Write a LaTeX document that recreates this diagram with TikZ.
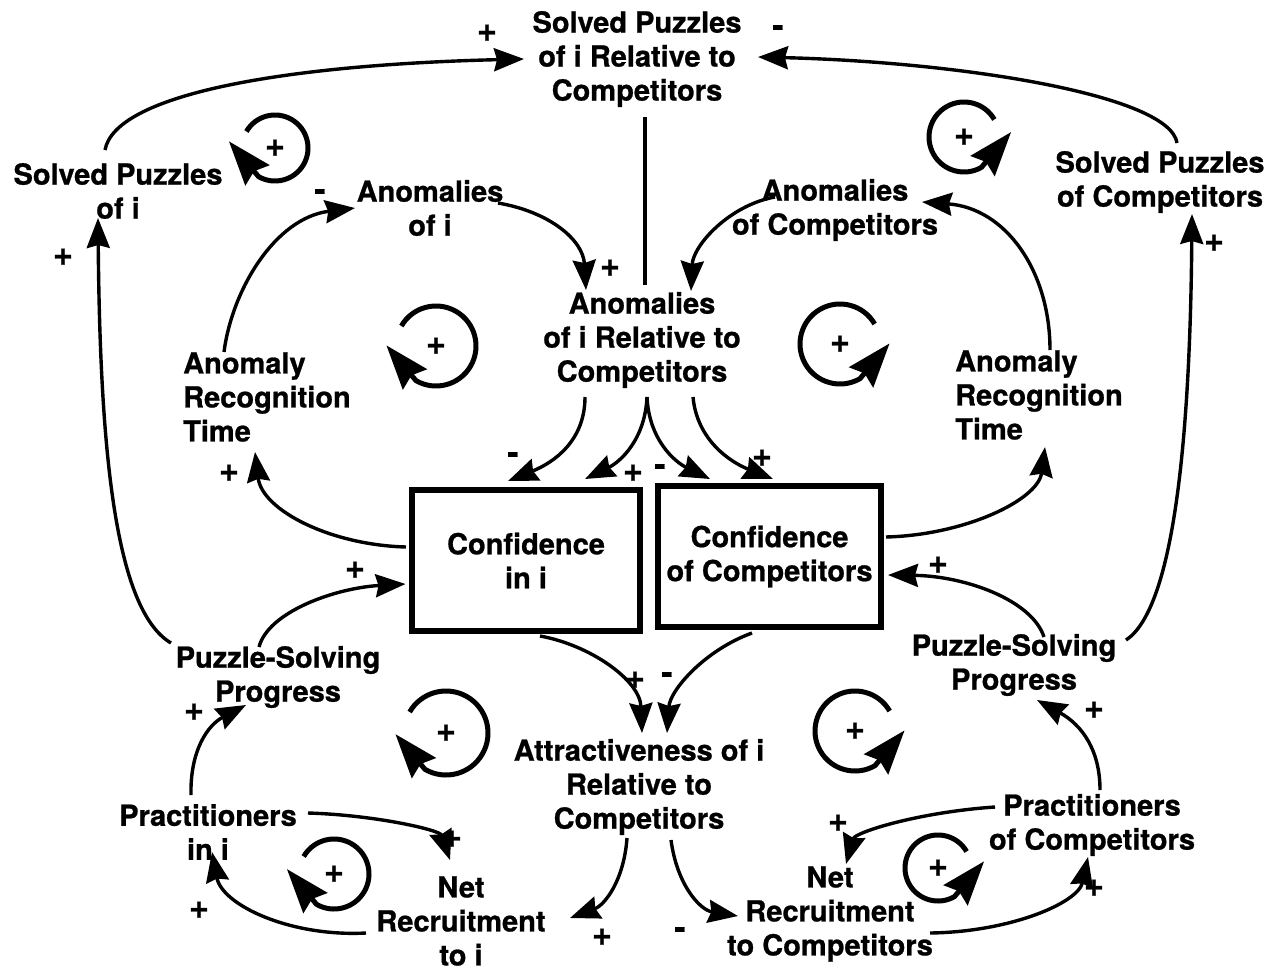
\documentclass[tikz,border=0pt]{standalone}
\usepackage{fontspec}
\setmainfont{TeX Gyre Heros}
\newfontfamily\heavyfont[BoldFeatures={FakeBold=0.8}]{TeX Gyre Heros}
\usetikzlibrary{arrows.meta,calc}

% reinforcing-loop marks: clockwise and counter-clockwise circular arrows
\newcommand\fbloopcw[3]{%
  \coordinate (#1) at #2;
  \draw[loopline] ($(#1)+(210:#3)$) arc[start angle=210,end angle=480,radius=#3] -- ++(230:46);
  \node[sign] at (#1) {+};
}
\newcommand\fbloopccw[3]{%
  \coordinate (#1) at #2;
  \draw[loopline] ($(#1)+(330:#3)$) arc[start angle=330,end angle=60,radius=#3] -- ++(-50:46);
  \node[sign] at (#1) {+};
}

\begin{document}
\begin{tikzpicture}[x=1pt,y=-1pt,
  lbl/.style={font=\fontsize{29}{34}\selectfont\heavyfont\bfseries, align=center, inner sep=0pt},
  cbox/.style={lbl, draw, line width=6pt},
  conn/.style={line width=3.4pt, -{Stealth[length=30pt,width=23pt,inset=3pt]}},
  loopline/.style={line width=5pt, -{Stealth[length=44pt,width=31pt,inset=5pt]}},
  sign/.style={font=\fontsize{34}{34}\selectfont\heavyfont\bfseries, inner sep=0pt},
]
\useasboundingbox (0,0) rectangle (1276,971);

% variables
\node[lbl] (T1)  at (637,59)  {Solved Puzzles\\of i Relative to\\Competitors};
\node[lbl] (SPi) at (118,191) {Solved Puzzles\\of i};
\node[lbl] (SPc) at (1160,182) {Solved Puzzles\\of Competitors};
\node[lbl] (Ai)  at (430,208) {Anomalies\\of i};
\node[lbl] (Ac)  at (835,210) {Anomalies\\of Competitors};
\node[lbl] (Ar)  at (642,340) {Anomalies\\of i Relative to\\Competitors};
\node[lbl,align=left,anchor=west] (ARTi) at (183,397) {Anomaly\\Recognition\\Time};
\node[lbl,align=left,anchor=west] (ARTc) at (955,395) {Anomaly\\Recognition\\Time};
\node[cbox,minimum width=228pt,minimum height=141pt] (Ci) at (526,560.5) {Confidence\\in i};
\node[cbox,minimum width=223pt,minimum height=141pt] (Cc) at (769.5,556.5) {Confidence\\of Competitors};
\node[lbl] (PSi) at (278,677)  {Puzzle-Solving\\Progress};
\node[lbl] (PSc) at (1014,665) {Puzzle-Solving\\Progress};
\node[lbl] (Att) at (639,787)  {Attractiveness of i\\Relative to\\Competitors};
\node[lbl] (Pi)  at (208,832)  {Practitioners\\in i};
\node[lbl] (Pc)  at (1092,825) {Practitioners\\of Competitors};
\node[lbl] (NRi) at (461,921)  {Net\\Recruitment\\to i};
\node[lbl] (NRc) at (830,914)  {Net\\Recruitment\\to Competitors};

% links
\draw[conn] ($(SPi)+(-13,-41)$) .. controls (115,95) and (280,65) .. ($(T1)+(-113,0)$);
\draw[conn] ($(SPc)+(17,-39)$) .. controls (1170,95) and (960,62) .. ($(T1)+(121,-2)$);
\draw[line width=3.4pt] ($(T1)+(8,58)$) -- ($(Ar)+(3,-55)$);
\draw[conn] ($(Ai)+(68,-5)$) .. controls (550,212) and (583,240) .. ($(Ar)+(-56,-50)$);
\draw[conn] ($(Ac)+(-60,-13)$) .. controls (730,205) and (693,245) .. ($(Ar)+(49,-49)$);
\draw[conn] ($(ARTi.west)+(41,-45)$) .. controls (232,290) and (275,218) .. ($(Ai)+(-75,0)$);
\draw[conn] ($(ARTc.west)+(95,-45)$) .. controls (1050,270) and (1005,208) .. ($(Ac)+(87,-8)$);

\draw[conn] ($(Ar)+(-57,57)$) .. controls (585,440) and (555,462) .. ($(Ci)+(-18,-79.5)$);
\draw[conn] ($(Ar)+(5,57)$) .. controls (645,440) and (620,462) .. ($(Ci)+(59,-81.5)$);
\draw[conn] ($(Ar)+(5,57)$) .. controls (649,440) and (675,462) .. ($(Cc)+(-59.5,-77.5)$);
\draw[conn] ($(Ar)+(51,57)$) .. controls (697,440) and (730,462) .. ($(Cc)+(3.5,-77.5)$);

\draw[conn] ($(Ci)+(-120,-13.5)$) .. controls (330,545) and (262,510) .. ($(ARTi.west)+(72,55)$);
\draw[conn] ($(Cc)+(116.5,-19.5)$) .. controls (965,535) and (1038,500) .. ($(ARTc.west)+(90,52)$);
\draw[conn] ($(PSi)+(-19,-30)$) .. controls (268,612) and (335,588) .. ($(Ci)+(-120.5,23.5)$);
\draw[conn] ($(PSc)+(30,-28)$) .. controls (1032,600) and (965,576) .. ($(Cc)+(118.5,18.5)$);
\draw[conn] ($(PSi)+(-107,-34)$) .. controls (115,610) and (100,450) .. ($(SPi)+(-20,27)$);
\draw[conn] ($(PSc)+(112,-25)$) .. controls (1172,610) and (1190,450) .. ($(SPc)+(32,32)$);

\draw[conn] ($(Ci)+(14,75.5)$) .. controls (590,645) and (640,680) .. ($(Att)+(3,-54)$);
\draw[conn] ($(Cc)+(-17.5,76.5)$) .. controls (705,650) and (670,690) .. ($(Att)+(28,-54)$);

\draw[conn] ($(Pi)+(-17,-37)$) .. controls (190,750) and (208,725) .. ($(PSi)+(-32,28)$);
\draw[conn] ($(Pc)+(8,-35)$) .. controls (1100,750) and (1082,725) .. ($(PSc)+(23,35)$);
\draw[conn] ($(Pi)+(100,-19)$) .. controls (375,815) and (440,830) .. ($(NRi)+(-11,-61)$);
\draw[conn] ($(Pc)+(-97,-18)$) .. controls (920,812) and (855,832) .. ($(NRc)+(16,-50)$);
\draw[conn] ($(NRi)+(-95,12)$) .. controls (290,937) and (222,905) .. ($(Pi)+(4,20)$);
\draw[conn] ($(NRc)+(100,19)$) .. controls (1010,932) and (1078,903) .. ($(Pc)+(-4,32)$);
\draw[conn] ($(Att)+(-12,51)$) .. controls (624,880) and (605,905) .. ($(NRi)+(109,-3)$);
\draw[conn] ($(Att)+(32,53)$) .. controls (677,885) and (700,910) .. ($(NRc)+(-92,2)$);

% link polarities
\node[sign] at (487,33) {+};
\node[sign] at (778,31) {-};
\node[sign] at (610,268) {+};
\node[sign] at (320,195) {-};
\node[sign] at (63,257) {+};
\node[sign] at (1214,243) {+};
\node[sign] at (513,458) {-};
\node[sign] at (633,473) {+};
\node[sign] at (660,470) {-};
\node[sign] at (762,458) {+};
\node[sign] at (229,473) {+};
\node[sign] at (355,570) {+};
\node[sign] at (938,565) {+};
\node[sign] at (635,680) {+};
\node[sign] at (667,678) {-};
\node[sign] at (194,712) {+};
\node[sign] at (1094,710) {+};
\node[sign] at (452,839) {+};
\node[sign] at (838,823) {+};
\node[sign] at (199,910) {+};
\node[sign] at (1094,888) {+};
\node[sign] at (602,937) {+};
\node[sign] at (680,933) {-};

% loop markers
\fbloopcw{L1}{(275,148)}{33}
\fbloopccw{L2}{(964,137)}{35}
\fbloopcw{L3}{(436,346)}{40}
\fbloopccw{L4}{(840,344)}{40}
\fbloopcw{L5}{(446,733)}{42}
\fbloopccw{L6}{(855,731)}{40}
\fbloopcw{L7}{(334,874)}{35}
\fbloopccw{L8}{(938,868)}{33}
\end{tikzpicture}
\end{document}
